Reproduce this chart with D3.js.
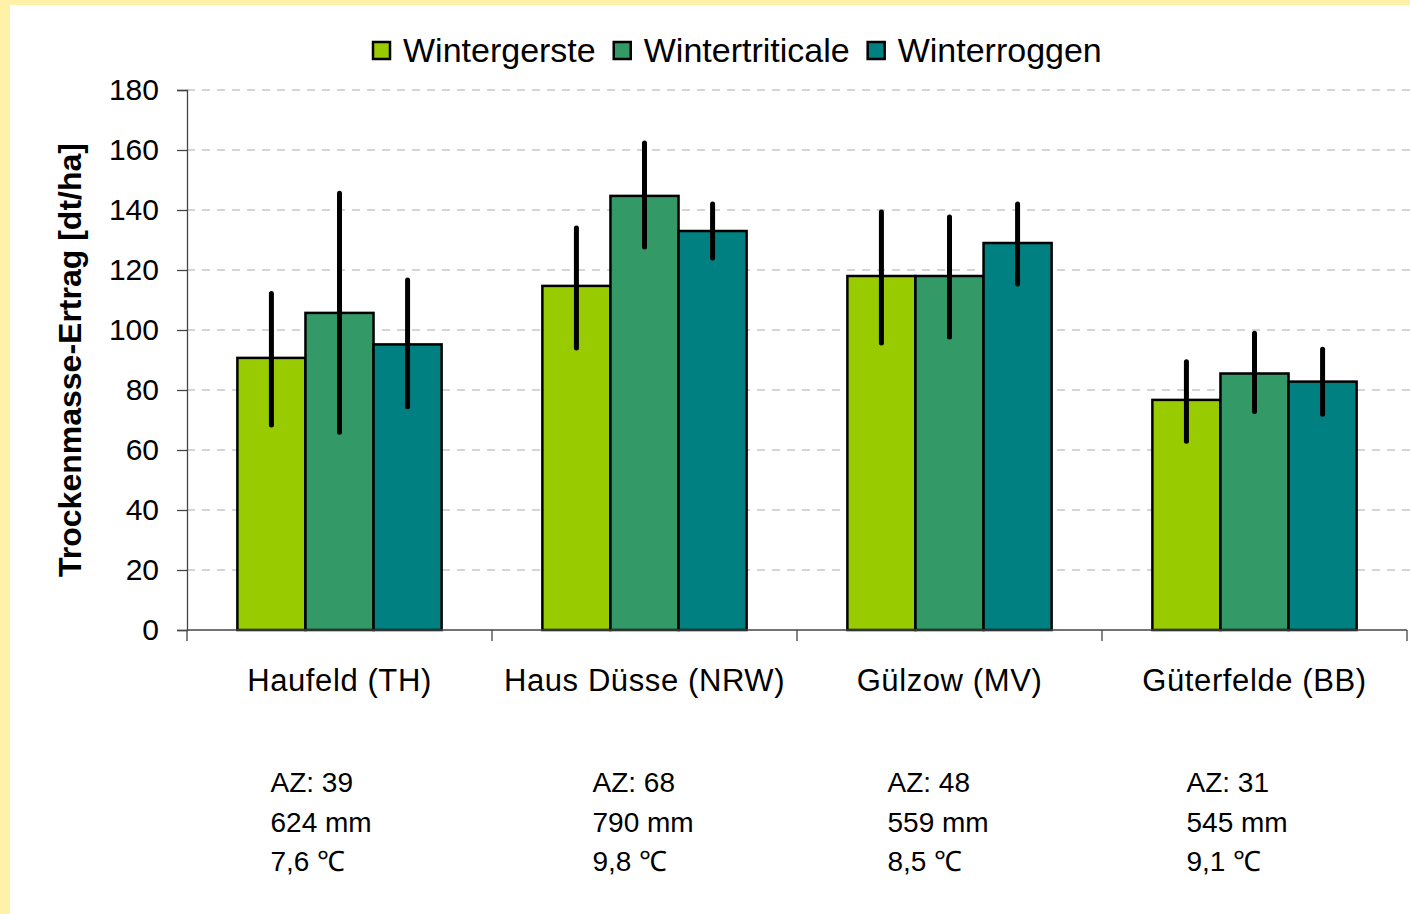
<!DOCTYPE html>
<html>
<head>
<meta charset="utf-8">
<script src="https://cdn.jsdelivr.net/npm/d3@7"></script>
<style>
  html, body { margin: 0; padding: 0; background: #fff; }
  svg { display: block; font-family: "Liberation Sans", Arial, sans-serif; }
</style>
</head>
<body>
<script>
const svgW = 1410;
const svgH = 914;

// data
const sites = ['Haufeld (TH)', 'Haus Düsse (NRW)', 'Gülzow (MV)', 'Güterfelde (BB)'];
const crops = ['Wintergerste', 'Wintertriticale', 'Winterroggen'];
const colors = ['#99cc00', '#339966', '#008080'];
// mittlerer Ertrag je Standort (Reihenfolge wie crops)
const gerste = [90.7, 114.7, 118, 76.7];
const triticale = [105.7, 144.7, 118, 85.5];
const roggen = [95.2, 133, 129, 82.8];
// Fehlerbalken min / max
const gersteLo = [68.3, 94, 95.7, 62.9];
const gersteHi = [112.2, 134, 139.3, 89.4];
const triticaleLo = [65.9, 127.7, 97.7, 72.8];
const triticaleHi = [145.6, 162.3, 137.7, 98.9];
const roggenLo = [74.4, 124, 115.3, 71.9];
const roggenHi = [116.7, 142, 142, 93.6];
const yTicks = [0, 20, 40, 60, 80, 100, 120, 140, 160, 180];
// Standortinfos
const az = [39, 68, 48, 31];
const niederschlag = [624, 790, 559, 545];
const temperatur = ['7,6', '9,8', '8,5', '9,1'];

const values = [gerste, triticale, roggen];
const lows = [gersteLo, triticaleLo, roggenLo];
const highs = [gersteHi, triticaleHi, roggenHi];

const svg = d3.select('body')
              .append('svg')
              .attr('width', svgW)
              .attr('height', svgH);

// gelber Rahmen
svg.append('rect').attr('x', 0).attr('y', 0).attr('width', svgW).attr('height', svgH).attr('fill', '#fff1a8');
svg.append('rect').attr('x', 10).attr('y', 5).attr('width', svgW - 10).attr('height', svgH - 5).attr('fill', '#fff');

const plotL = 187, plotR = 1407, plotT = 90, plotB = 630;

const x0 = d3.scaleBand().domain(sites).range([plotL, plotR]);
const x1 = d3.scaleBand().domain(crops).range([0, x0.bandwidth()]).paddingOuter(0.74);
const y = d3.scaleLinear().domain([0, 180]).range([plotB, plotT]);

// Gitterlinien
svg.append('g').selectAll('line')
  .data(yTicks.slice(1))
  .enter().append('line')
  .attr('x1', plotL).attr('x2', svgW)
  .attr('y1', d => y(d)).attr('y2', d => y(d))
  .attr('stroke', '#c8c8c8')
  .attr('stroke-width', 1.3)
  .attr('stroke-dasharray', '8,7');

// y-Achse
const yAxis = d3.axisLeft(y).tickValues(yTicks).tickSize(10).tickPadding(18);
const gy = svg.append('g').attr('transform', `translate(${plotL}, 0)`).call(yAxis);
gy.select('.domain').attr('stroke', '#444').attr('stroke-width', 1.3);
gy.selectAll('.tick line').attr('stroke', '#444').attr('stroke-width', 1.3);
gy.selectAll('.tick text').attr('font-size', 30).attr('fill', '#000').attr('font-family', 'Liberation Sans, Arial, sans-serif');

// Balken
const groups = svg.selectAll('.site')
  .data(sites)
  .enter().append('g')
  .attr('class', 'site')
  .attr('transform', d => `translate(${x0(d)}, 0)`);

groups.selectAll('rect')
  .data((s, i) => crops.map((c, j) => ({ crop: c, j: j, v: values[j][i] })))
  .enter().append('rect')
  .attr('x', d => x1(d.crop))
  .attr('y', d => y(d.v))
  .attr('width', x1.bandwidth())
  .attr('height', d => y(0) - y(d.v))
  .attr('fill', d => colors[d.j])
  .attr('stroke', '#000')
  .attr('stroke-width', 2.5);

// Fehlerbalken
groups.selectAll('line.err')
  .data((s, i) => crops.map((c, j) => ({ crop: c, lo: lows[j][i], hi: highs[j][i] })))
  .enter().append('line')
  .attr('class', 'err')
  .attr('x1', d => x1(d.crop) + x1.bandwidth() / 2)
  .attr('x2', d => x1(d.crop) + x1.bandwidth() / 2)
  .attr('y1', d => y(d.lo))
  .attr('y2', d => y(d.hi))
  .attr('stroke', '#000')
  .attr('stroke-width', 5)
  .attr('stroke-linecap', 'round');

// x-Achse
const gx = svg.append('g');
gx.append('line')
  .attr('x1', plotL).attr('x2', plotR)
  .attr('y1', y(0)).attr('y2', y(0))
  .attr('stroke', '#444').attr('stroke-width', 1.3);
const xTickPos = sites.map(s => x0(s)).concat([plotR]);
gx.selectAll('line.tick')
  .data(xTickPos)
  .enter().append('line')
  .attr('class', 'tick')
  .attr('x1', d => d).attr('x2', d => d)
  .attr('y1', y(0)).attr('y2', y(0) + 11)
  .attr('stroke', '#444').attr('stroke-width', 1.3);
gx.selectAll('text')
  .data(sites)
  .enter().append('text')
  .attr('x', d => x0(d) + x0.bandwidth() / 2)
  .attr('y', 691)
  .attr('text-anchor', 'middle')
  .attr('font-size', 31)
  .attr('letter-spacing', 0.6)
  .text(d => d);

// Standortinfos unter der Achse
const infoShift = [-69, -52, -62, -68];
const info = svg.selectAll('.info')
  .data(sites)
  .enter().append('text')
  .attr('class', 'info')
  .attr('font-size', 28)
  .attr('x', (d, i) => x0(d) + x0.bandwidth() / 2 + infoShift[i]);
info.append('tspan').attr('y', 792).text((d, i) => `AZ: ${az[i]}`);
info.append('tspan').attr('x', (d, i) => x0(d) + x0.bandwidth() / 2 + infoShift[i]).attr('y', 832).text((d, i) => `${niederschlag[i]} mm`);
info.append('tspan').attr('x', (d, i) => x0(d) + x0.bandwidth() / 2 + infoShift[i]).attr('y', 871).text((d, i) => `${temperatur[i]} ℃`);

// y-Titel
svg.append('text')
  .attr('transform', `translate(81, ${(plotT + plotB) / 2}) rotate(-90)`)
  .attr('text-anchor', 'middle')
  .attr('font-size', 32)
  .attr('font-weight', 'bold')
  .text('Trockenmasse-Ertrag [dt/ha]');

// Legende
const legend = svg.append('g').attr('transform', 'translate(372, 0)');
let lx = 0;
crops.forEach((c, j) => {
  legend.append('rect')
    .attr('x', lx + 1).attr('y', 42)
    .attr('width', 17).attr('height', 17)
    .attr('fill', colors[j])
    .attr('stroke', '#000').attr('stroke-width', 2.5);
  const t = legend.append('text')
    .attr('x', lx + 31).attr('y', 62)
    .attr('font-size', 34)
    .text(c);
  lx += 31 + t.node().getComputedTextLength() + 17;
});
</script>
</body>
</html>
